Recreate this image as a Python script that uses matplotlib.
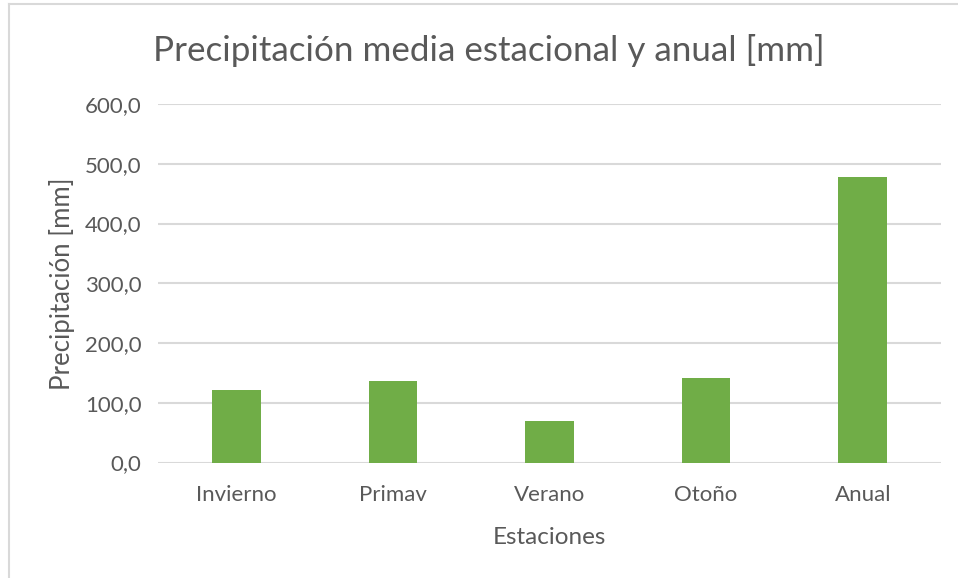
import matplotlib
matplotlib.use("Agg")
import matplotlib.pyplot as plt
from matplotlib.lines import Line2D
from matplotlib.ticker import FuncFormatter

categories = ["Invierno", "Primav", "Verano", "Otoño", "Anual"]
values = [121, 137, 69, 142, 477]
yticks = [0, 100, 200, 300, 400, 500, 600]

plt.rcParams['font.family'] = ['Lato', 'DejaVu Sans']
txt = '#595959'

W, H = 958, 578
fig = plt.figure(figsize=(W/100, H/100), dpi=100)
ax = fig.add_axes([158/W, 1-462.5/H, (941-158)/W, (462.5-104)/H])

x = range(len(categories))
ax.bar(x, values, width=0.31, color='#70AD47', zorder=3)
ax.set_xlim(-0.5, len(categories)-0.5)
ax.set_ylim(0, 600)
ax.set_yticks(yticks)
ax.yaxis.set_major_formatter(FuncFormatter(lambda v, p: f"{v:.1f}".replace('.', ',')))
ax.set_xticks(list(x))
ax.set_xticklabels(categories)
ax.grid(axis='y', color='#D9D9D9', linewidth=1.5, zorder=0)
for s in ax.spines.values():
    s.set_visible(False)
ax.tick_params(axis='both', length=0, labelsize=16, colors=txt)
ax.tick_params(axis='y', pad=12)
ax.tick_params(axis='x', pad=16)
ax.set_xlabel("Estaciones", fontsize=17.5, color=txt, labelpad=16)
ax.set_ylabel("Precipitación [mm]", fontsize=18.5, color=txt, labelpad=7)

fig.text(489/W, 1-61/H, "Precipitación media estacional y anual [mm]",
         ha='center', va='baseline', fontsize=25.2, color=txt)

fig.add_artist(Line2D([9/W, 9/W], [0, 1-4/H], color='#D9D9D9', linewidth=1.5))
fig.add_artist(Line2D([9/W, 1], [1-4/H, 1-4/H], color='#D9D9D9', linewidth=1.5))

fig.savefig("out.png", dpi=100, facecolor='white')
